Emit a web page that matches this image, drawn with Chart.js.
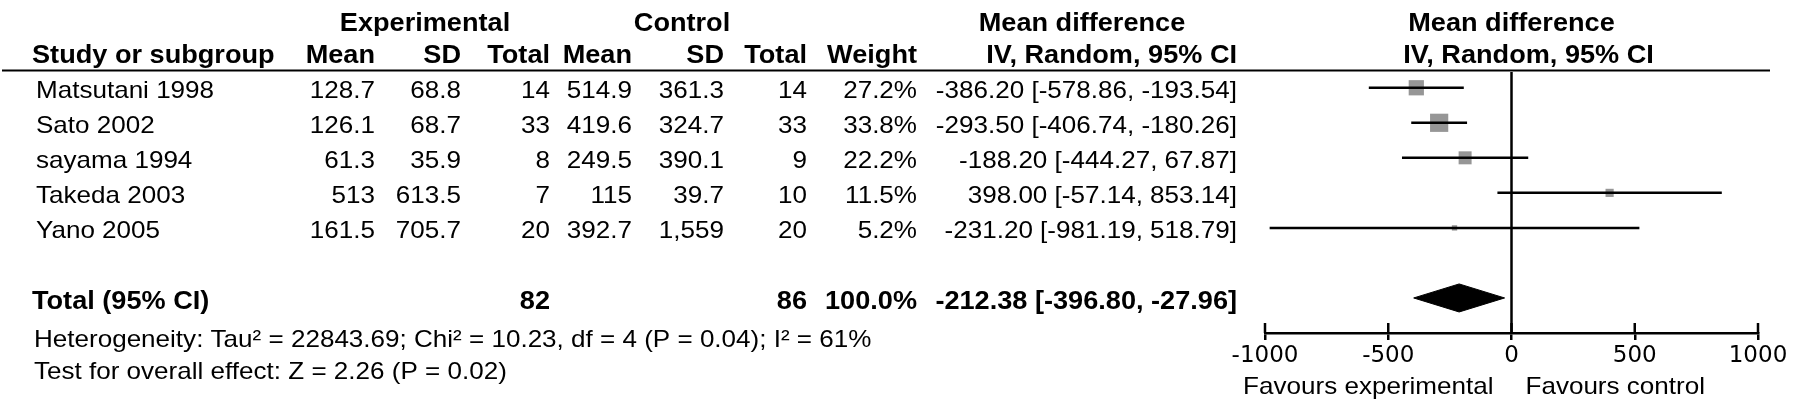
<!DOCTYPE html>
<html>
<head>
<meta charset="utf-8">
<script src="https://cdn.jsdelivr.net/npm/chart.js@4.4.1/dist/chart.umd.min.js"></script>
<style>
html,body{margin:0;padding:0;background:#fff}
#forest{display:block}
</style>
</head>
<body>
<canvas id="forest" width="1795" height="418"></canvas>
<script>

// study data
const studies = ["Matsutani 1998","Sato 2002","sayama 1994","Takeda 2003","Yano 2005"]
const expMean = [128.7,126.1,61.3,513,161.5]
const expSD = [68.8,68.7,35.9,613.5,705.7]
const expN = [14,33,8,7,20]
const ctlMean = [514.9,419.6,249.5,115,392.7]
const ctlSD = [361.3,324.7,390.1,39.7,1559]
const ctlN = [14,33,9,10,20]
const weight = [27.2,33.8,22.2,11.5,5.2]
const md = [-386.20,-293.50,-188.20,398.00,-231.20]
const ciLo = [-578.86,-406.74,-444.27,-57.14,-981.19]
const ciHi = [-193.54,-180.26,67.87,853.14,518.79]

const totalExpN = 82
const totalCtlN = 86
const totalWeight = 100.0
const totalMD = -212.38
const totalLo = -396.80
const totalHi = -27.96

const xTicks = [-1000,-500,0,500,1000]

const hetText = "Heterogeneity: Tau\u00b2 = 22843.69; Chi\u00b2 = 10.23, df = 4 (P = 0.04); I\u00b2 = 61%"
const effectText = "Test for overall effect: Z = 2.26 (P = 0.02)"

const totalRow = 6

// column anchors of the table (right edges unless noted)
const col = {label:36, expMean:375, expSD:461, expN:550, ctlMean:632, ctlSD:724, ctlN:807, weight:917, ci:1237}

function fmtCI(m,lo,hi){
return m.toFixed(2)+" ["+lo.toFixed(2)+", "+hi.toFixed(2)+"]"
}

function txt(ctx,s,x,y,align,bold){
ctx.save()
ctx.font=(bold?"bold 25px":"24px")+' "Liberation Sans", Arial, sans-serif'
ctx.fillStyle="#000"
ctx.textAlign=align
ctx.textBaseline="alphabetic"
ctx.translate(x,y)
ctx.scale(1.085,1)
ctx.fillText(s,0,0)
ctx.restore()
}

let datasets = []

studies.forEach((s,i)=>{
datasets.push({
data:[{x:ciLo[i],y:i},{x:ciHi[i],y:i}],
borderColor:"#000",
borderWidth:2.5,
pointRadius:0,
fill:false
})
})

datasets.push({
data:md.map((v,i)=>({x:v,y:i})),
showLine:false,
pointStyle:"rect",
pointRadius:weight.map(w=>(3+0.45*w)/Math.SQRT2),
pointBackgroundColor:"#969696",
pointBorderColor:"#969696",
pointBorderWidth:0
})

// pooled diamond, upper and lower halves
datasets.push({
data:[{x:totalLo,y:totalRow},{x:totalMD,y:totalRow-0.4},{x:totalHi,y:totalRow}],
borderColor:"#000",
borderWidth:1,
backgroundColor:"#000",
pointRadius:0,
fill:{value:totalRow}
})
datasets.push({
data:[{x:totalLo,y:totalRow},{x:totalMD,y:totalRow+0.4},{x:totalHi,y:totalRow}],
borderColor:"#000",
borderWidth:1,
backgroundColor:"#000",
pointRadius:0,
fill:{value:totalRow}
})

const tablePlugin = {
id:"table",
beforeDraw(chart){
const ctx=chart.ctx
ctx.save()
ctx.fillStyle="#fff"
ctx.fillRect(0,0,chart.width,chart.height)
ctx.restore()
},
beforeDatasetsDraw(chart){
const ctx=chart.ctx
const x=chart.scales.x
const a=chart.chartArea
ctx.save()
ctx.strokeStyle="#000"
ctx.lineWidth=2.5
ctx.beginPath()
ctx.moveTo(x.getPixelForValue(0),a.top)
ctx.lineTo(x.getPixelForValue(0),a.bottom)
ctx.stroke()
ctx.restore()
},
afterDraw(chart){
const ctx=chart.ctx
const x=chart.scales.x
const y=chart.scales.y
const a=chart.chartArea

// upward part of the axis ticks
ctx.save()
ctx.strokeStyle="#000"
ctx.lineWidth=2.5
x.ticks.forEach(t=>{
const px=x.getPixelForValue(t.value)
ctx.beginPath()
ctx.moveTo(px,a.bottom-10)
ctx.lineTo(px,a.bottom)
ctx.stroke()
})
// header rule
ctx.lineWidth=2
ctx.beginPath()
ctx.moveTo(2,70.5)
ctx.lineTo(1770,70.5)
ctx.stroke()
ctx.restore()

// header
txt(ctx,"Experimental",425,31,"center",true)
txt(ctx,"Control",682,31,"center",true)
txt(ctx,"Mean difference",1082,31,"center",true)
txt(ctx,"Mean difference",x.getPixelForValue(0),31,"center",true)
txt(ctx,"Study or subgroup",32,63,"left",true)
txt(ctx,"Mean",col.expMean,63,"right",true)
txt(ctx,"SD",col.expSD,63,"right",true)
txt(ctx,"Total",col.expN,63,"right",true)
txt(ctx,"Mean",col.ctlMean,63,"right",true)
txt(ctx,"SD",col.ctlSD,63,"right",true)
txt(ctx,"Total",col.ctlN,63,"right",true)
txt(ctx,"Weight",col.weight,63,"right",true)
txt(ctx,"IV, Random, 95% CI",col.ci,63,"right",true)
txt(ctx,"IV, Random, 95% CI",x.getPixelForValue(0)+17,63,"center",true)

// study rows
studies.forEach((s,i)=>{
const b=y.getPixelForValue(i)+10
txt(ctx,s,col.label,b,"left",false)
txt(ctx,String(expMean[i]),col.expMean,b,"right",false)
txt(ctx,String(expSD[i]),col.expSD,b,"right",false)
txt(ctx,String(expN[i]),col.expN,b,"right",false)
txt(ctx,String(ctlMean[i]),col.ctlMean,b,"right",false)
txt(ctx,ctlSD[i].toLocaleString("en-US"),col.ctlSD,b,"right",false)
txt(ctx,String(ctlN[i]),col.ctlN,b,"right",false)
txt(ctx,weight[i].toFixed(1)+"%",col.weight,b,"right",false)
txt(ctx,fmtCI(md[i],ciLo[i],ciHi[i]),col.ci,b,"right",false)
})

// total row
const tb=y.getPixelForValue(totalRow)+11
txt(ctx,"Total (95% CI)",32,tb,"left",true)
txt(ctx,String(totalExpN),col.expN,tb,"right",true)
txt(ctx,String(totalCtlN),col.ctlN,tb,"right",true)
txt(ctx,totalWeight.toFixed(1)+"%",col.weight,tb,"right",true)
txt(ctx,fmtCI(totalMD,totalLo,totalHi),col.ci,tb,"right",true)

txt(ctx,hetText,34,347,"left",false)
txt(ctx,effectText,34,379,"left",false)

// favours labels under the axis
txt(ctx,"Favours experimental",x.getPixelForValue(0)-18,394,"right",false)
txt(ctx,"Favours control",x.getPixelForValue(0)+14,394,"left",false)
}
}

const chart = new Chart(document.getElementById("forest"),{
type:"line",
data:{datasets:datasets},
options:{
responsive:false,
animation:false,
devicePixelRatio:1,
events:[],
layout:{padding:{left:1265,right:37,top:72,bottom:46.4}},
plugins:{legend:{display:false},tooltip:{enabled:false}},
scales:{
x:{
type:"linear",
min:xTicks[0],
max:xTicks[xTicks.length-1],
border:{display:true,color:"#000",width:2.5},
grid:{display:true,drawOnChartArea:false,drawTicks:true,tickLength:7,color:"#000",lineWidth:2.5},
afterBuildTicks:(axis)=>{axis.ticks=xTicks.map(v=>({value:v}))},
ticks:{autoSkip:false,maxRotation:0,padding:2,color:"#000",font:{family:'"DejaVu Sans"',size:23},callback:(v)=>String(v)}
},
y:{type:"linear",min:-0.45,max:7,reverse:true,display:false}
}
},
plugins:[tablePlugin]
})

</script>
</body>
</html>
